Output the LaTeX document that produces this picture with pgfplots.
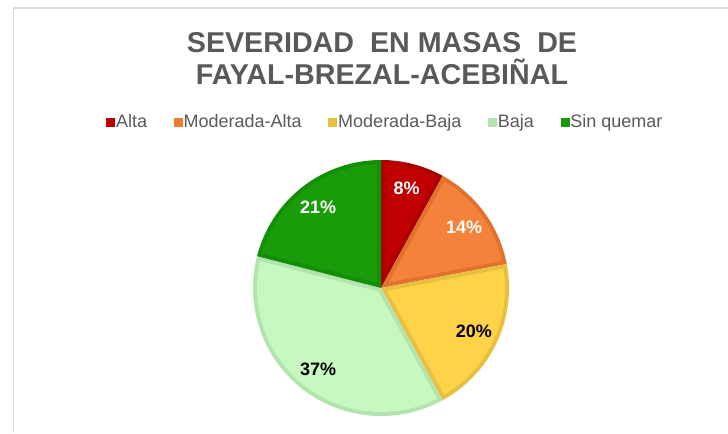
\documentclass[border=0pt]{standalone}
\usepackage{pgfplots}
\pgfplotsset{compat=1.18}
\usepackage{pgfplotstable}
\usetikzlibrary{calc}
\usepackage{fontspec}
\setmainfont{Liberation Sans}

\definecolor{txtgray}{HTML}{595959}
\definecolor{frame}{HTML}{D9D9D9}
\definecolor{altaF}{HTML}{C00000}
\definecolor{altaB}{HTML}{AC0000}
\definecolor{altaL}{HTML}{C00000}
\definecolor{maF}{HTML}{F5823A}
\definecolor{maB}{HTML}{E1722E}
\definecolor{maL}{HTML}{ED7D31}
\definecolor{mbF}{HTML}{FFD347}
\definecolor{mbB}{HTML}{E8BF3E}
\definecolor{mbL}{HTML}{E8BF3E}
\definecolor{bjF}{HTML}{C6F8C0}
\definecolor{bjB}{HTML}{B3E3AE}
\definecolor{bjL}{HTML}{B3E3AE}
\definecolor{sqF}{HTML}{1A9C0A}
\definecolor{sqB}{HTML}{128F06}
\definecolor{sqL}{HTML}{149A08}

% #1 cumulative start (%), #2 value (%), #3 fill, #4 border, #5 label colour
\newcommand{\pieslice}[5]{%
  \fill[#4] (axis cs:381,145) -- ++({90-3.6*#1}:96pt)
     arc[start angle={90-3.6*#1}, end angle={90-3.6*(#1+#2)}, radius=96pt] -- cycle;
  \fill[#3] ($(axis cs:381,145)+({90-3.6*(#1+#2/2)}:{3pt/sin(1.8*#2)})$)
     -- ($(axis cs:381,145)+({90-3.6*#1-1.85}:93pt)$)
     arc[start angle={90-3.6*#1-1.85}, end angle={90-3.6*(#1+#2)+1.85}, radius=93pt] -- cycle;
  \node[text=#5, font=\bfseries\fontsize{13.5pt}{15pt}\selectfont, inner sep=0pt]
     at ($(axis cs:381,145)+({90-3.6*(#1+#2/2)}:77pt)$) {#2\%};
}

\pgfplotsset{sq/.style={legend image code/.code={\fill[#1] (0pt,-3pt) rectangle (6pt,3pt);}}}

\begin{document}
\begin{tikzpicture}
\begin{axis}[
  scale only axis, width=546pt, height=324.75pt,
  xmin=0, xmax=728, ymin=0, ymax=433,
  hide axis, clip=false,
  legend columns=-1,
  legend style={at={(axis cs:385,311)}, anchor=center, draw=none, fill=none,
    font=\fontsize{13.5pt}{15pt}\selectfont, text=txtgray,
    nodes={inner sep=1pt},
    /tikz/every even column/.append style={column sep=19pt}},
]
\addlegendimage{sq=altaL}\addlegendentry{Alta}
\addlegendimage{sq=maL}\addlegendentry{Moderada-Alta}
\addlegendimage{sq=mbL}\addlegendentry{Moderada-Baja}
\addlegendimage{sq=bjL}\addlegendentry{Baja}
\addlegendimage{sq=sqL}\addlegendentry{Sin quemar}

\draw[frame, line width=1.2pt] (axis cs:13.5,0) -- (axis cs:13.5,425) -- (axis cs:728,425);

\node[text=txtgray, font=\bfseries\fontsize{21.5pt}{24pt}\selectfont, align=center]
  at (axis cs:382,374) {SEVERIDAD\ \ EN MASAS\ \ DE\\FAYAL-BREZAL-ACEBIÑAL};

% values (%): Alta 8, Moderada-Alta 14, Moderada-Baja 20, Baja 37, Sin quemar 21
\pieslice{0}{8}{altaF}{altaB}{white}
\pieslice{8}{14}{maF}{maB}{white}
\pieslice{22}{20}{mbF}{mbB}{black}
\pieslice{42}{37}{bjF}{bjB}{black}
\pieslice{79}{21}{sqF}{sqB}{white}
\end{axis}
\pgfresetboundingbox
\path (current axis.south west) rectangle (current axis.north east);
\end{tikzpicture}
\end{document}
